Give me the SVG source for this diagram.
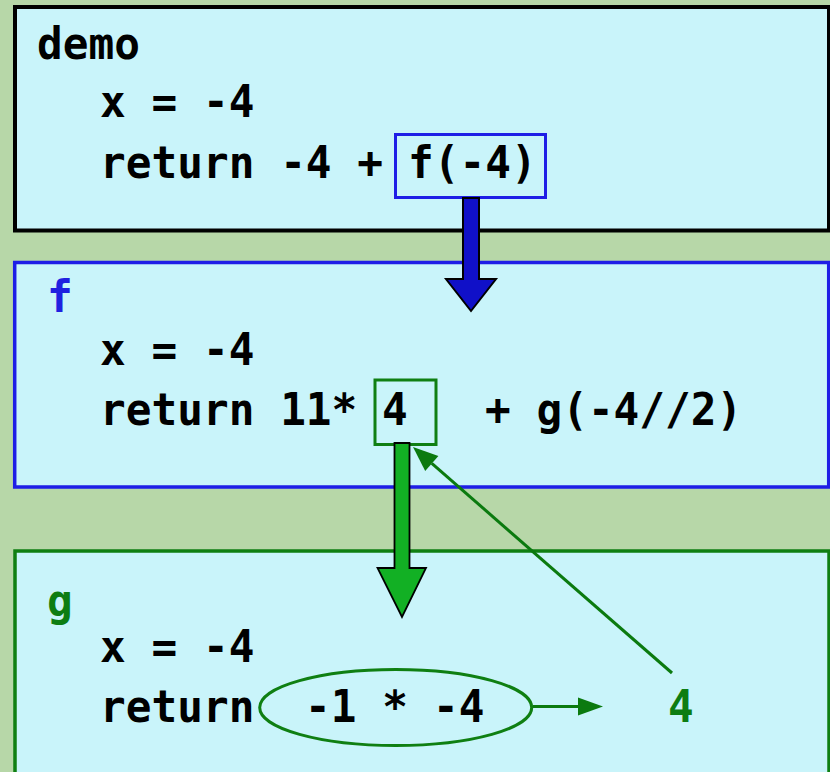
<svg xmlns="http://www.w3.org/2000/svg" width="830" height="772" viewBox="0 0 830 772">
<style>
.t{font-family:"DejaVu Sans Mono","Liberation Mono",monospace;font-weight:bold;font-size:45px;fill:#000}
.panel{fill:#c9f4fa}
.blue{fill:#2020e0}
.green{fill:#0d7d12}
</style>
<rect x="0" y="0" width="830" height="772" fill="#b7d7a8"/>
<g id="demo">
<rect class="panel" x="15" y="7" width="814" height="223.5" stroke="#000" stroke-width="4"/>
<rect x="395.5" y="134.5" width="150" height="63" fill="none" stroke="#1e1ee6" stroke-width="3"/>
<g transform="scale(0.95 1)">
<text class="t" x="38.9" y="59">demo</text>
<text class="t" x="105.3" y="117">x = -4</text>
<text class="t" x="105.3" y="178">return -4 +</text>
<text class="t" x="429.5" y="178">f(-4)</text>
</g>
</g>
<g id="f">
<rect class="panel" x="14.7" y="262.5" width="814" height="224.5" stroke="#1e1ee6" stroke-width="3.5"/>
<rect x="375" y="380" width="61" height="64.5" fill="none" stroke="#0f7f12" stroke-width="3"/>
<g transform="scale(0.95 1)">
<text class="t blue" x="49.5" y="312">f</text>
<text class="t" x="105.3" y="365">x = -4</text>
<text class="t" x="105.3" y="425">return 11*</text>
<text class="t" x="402.1" y="425">4</text>
<text class="t" x="510.5" y="425">+ g(-4//2)</text>
</g>
</g>
<g id="g">
<rect class="panel" x="15" y="551" width="814" height="240" stroke="#0f7f12" stroke-width="3.5"/>
<ellipse cx="395.7" cy="707.5" rx="136" ry="38" fill="none" stroke="#0f7f12" stroke-width="3"/>
<g transform="scale(0.95 1)">
<text class="t green" x="49.5" y="616">g</text>
<text class="t" x="105.3" y="662">x = -4</text>
<text class="t" x="105.3" y="722">return</text>
<text class="t" x="321" y="722">-1</text>
<text class="t" x="402.5" y="722">*</text>
<text class="t" x="455.8" y="722">-4</text>
<text class="t green" x="703.2" y="722">4</text>
</g>
</g>
<g id="connectors">
<polygon points="463,198 479,198 479,279 496,279 471,311 446,279 463,279" fill="#1010c8" stroke="#000" stroke-width="2" stroke-linejoin="miter"/>
<polygon points="394.5,443 409.5,443 409.5,568 426,568 402,617 377.5,568 394.5,568" fill="#12b024" stroke="#000" stroke-width="1.8"/>
<line x1="672" y1="673" x2="431.8" y2="463.4" stroke="#0b7a0f" stroke-width="3"/>
<polygon points="413,447 438.4,455.9 425.2,471" fill="#0b7a0f"/>
<line x1="533" y1="706.5" x2="580" y2="706.5" stroke="#0b7a0f" stroke-width="3"/>
<polygon points="603,706.5 578,697.5 578,715.5" fill="#0b7a0f"/>
</g>
</svg>
